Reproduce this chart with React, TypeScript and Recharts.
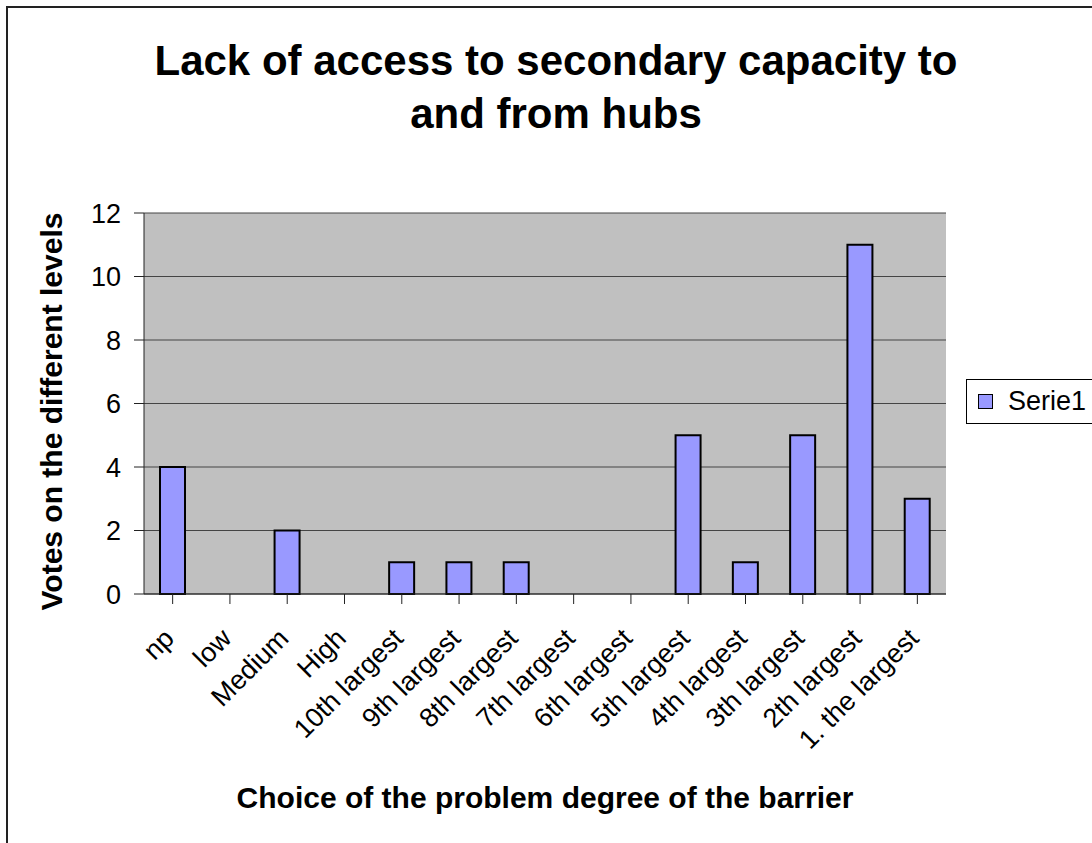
import { BarChart, Bar, XAxis, YAxis, CartesianGrid, Legend } from "recharts";

const categories = [
  "np",
  "low",
  "Medium",
  "High",
  "10th largest",
  "9th largest",
  "8th largest",
  "7th largest",
  "6th largest",
  "5th largest",
  "4th largest",
  "3th largest",
  "2th largest",
  "1. the largest",
];
const serie1 = [4, 0, 2, 0, 1, 1, 1, 0, 0, 5, 1, 5, 11, 3];
const yTicks = [0, 2, 4, 6, 8, 10, 12];

const data = categories.map((name, i) => ({ name, Serie1: serie1[i] }));

const FONT = '"Liberation Sans", Arial, Helvetica, sans-serif';

const XTick = ({ x, y, payload }: any) => (
  <text
    x={x + 3}
    y={y + 36}
    transform={`rotate(-45, ${x + 3}, ${y + 36})`}
    textAnchor="end"
    fontSize={27}
    fontFamily={FONT}
    fill="#000"
  >
    {payload.value}
  </text>
);

const YTitle = ({ viewBox }: any) => {
  const cx = viewBox.x + 51;
  const cy = viewBox.y + viewBox.height / 2 + 8;
  return (
    <text
      x={cx}
      y={cy}
      transform={`rotate(-90, ${cx}, ${cy})`}
      textAnchor="middle"
      dominantBaseline="central"
      fontSize={30}
      fontWeight="bold"
      fontFamily={FONT}
      fill="#000"
    >
      Votes on the different levels
    </text>
  );
};

const LegendBox = ({ payload }: any) => (
  <div
    style={{
      border: "1px solid #000",
      height: 43,
      width: 220,
      display: "flex",
      alignItems: "center",
      background: "#fff",
      boxSizing: "content-box",
    }}
  >
    {(payload || []).map((p: any) => (
      <div key={p.value} style={{ display: "flex", alignItems: "center" }}>
        <span
          style={{
            display: "inline-block",
            width: 13,
            height: 13,
            marginLeft: 11,
            marginRight: 15,
            background: "#9999FF",
            border: "1.5px solid #000",
          }}
        />
        <span style={{ fontSize: 27, fontFamily: FONT, color: "#000" }}>{p.value}</span>
      </div>
    ))}
  </div>
);

export default function App() {
  return (
    <div
      style={{
        position: "fixed",
        left: 0,
        top: 0,
        width: 1092,
        height: 843,
        overflow: "hidden",
        background: "#fff",
        fontFamily: FONT,
      }}
    >
      <div
        style={{
          position: "absolute",
          left: 6,
          top: 6,
          width: 1200,
          height: 1000,
          border: "2px solid #222",
        }}
      />
      <div
        style={{
          position: "absolute",
          left: 0,
          top: 34,
          width: 1112,
          textAlign: "center",
          fontSize: 42,
          lineHeight: "53px",
          fontWeight: "bold",
          color: "#000",
        }}
      >
        Lack of access to secondary capacity to
        <br />
        and from hubs
      </div>
      <div style={{ position: "absolute", left: 0, top: 0 }}>
        <BarChart
          width={1092}
          height={843}
          data={data}
          margin={{ top: 213, right: 146, left: 0, bottom: 29 }}
        >
          <CartesianGrid
            vertical={false}
            stroke="#444"
            fill="#C0C0C0"
            fillOpacity={1}
          />
          <XAxis
            dataKey="name"
            interval={0}
            height={220}
            tickSize={10}
            tickMargin={0}
            tick={<XTick />}
            axisLine={{ stroke: "#222" }}
            tickLine={{ stroke: "#222" }}
            label={{
              value: "Choice of the problem degree of the barrier",
              position: "insideBottom",
              offset: 6,
              fontSize: 30,
              fontWeight: "bold",
              fontFamily: FONT,
              fill: "#000",
            }}
          />
          <YAxis
            width={144}
            domain={[0, 12]}
            ticks={yTicks}
            tickSize={10}
            tickMargin={13}
            tick={{ fontSize: 27, fontFamily: FONT, fill: "#000" }}
            axisLine={{ stroke: "#222" }}
            tickLine={{ stroke: "#222" }}
            label={<YTitle />}
          />
          <YAxis
            yAxisId="frame"
            orientation="right"
            width={0}
            domain={[0, 12]}
            tick={false}
            tickLine={false}
            axisLine={{ stroke: "#808080", strokeWidth: 2 }}
          />
          <Legend
            layout="horizontal"
            align="center"
            verticalAlign="middle"
            content={<LegendBox />}
            wrapperStyle={{ position: "absolute", left: 966, top: 379, width: 230, height: 45 }}
          />
          <Bar
            dataKey="Serie1"
            name="Serie1"
            barSize={25}
            fill="#9999FF"
            stroke="#000"
            strokeWidth={2}
            isAnimationActive={false}
          />
        </BarChart>
      </div>
    </div>
  );
}
